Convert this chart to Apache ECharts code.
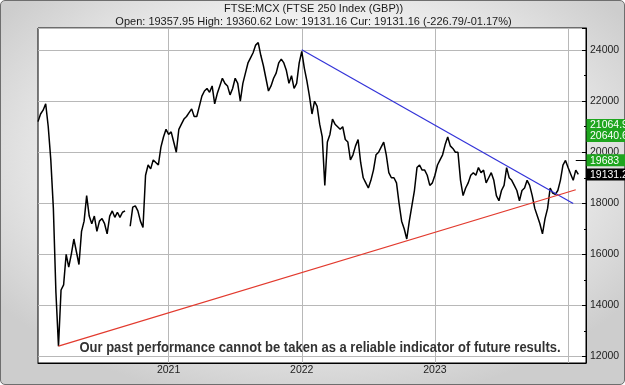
<!DOCTYPE html>
<html>
<head>
<meta charset="utf-8">
<script src="https://cdn.jsdelivr.net/npm/echarts@6/dist/echarts.min.js"></script>
<style>
html,body{margin:0;padding:0;background:#ffffff;}
#c{position:absolute;left:0;top:0;width:625px;height:385px;box-sizing:border-box;
border:1px solid #6e6e6e;border-radius:5px;
background:radial-gradient(ellipse 62% 64% at 50% 42%, #ffffff 0%, #f3f3f3 55%, #cdcdcd 100%);}
</style>
</head>
<body>
<div id="c"></div>
<script>
// ---------- data ----------
const titleText = 'FTSE:MCX (FTSE 250 Index (GBP))';
const quoteText = 'Open: 19357.95 High: 19360.62 Low: 19131.16 Cur: 19131.16 (-226.79/-01.17%)';
const disclaimerText = 'Our past performance cannot be taken as a reliable indicator of future results.';

const firstWeek = '2020-01-10';   // weekly closes, one per Friday
const weekCount = 215;            // axis runs to 2024-02-16

const values2020 = [21200,21500,21650,21900,21000,19700,17800,14500,12400,14600,
  14800,16000,15500,16000,16600,16100,15600,16900,17300,18300,
  17500,17200,17500,16900,17300,17400,17200,16800,17500,17700,
  17450,17650,17450,17650,17700,null,17100,17850,17900,17700,
  17300,17050,19100,19500,19350,19700,19600,19500,20200,20600,
  20900];
const values2021 = [20700,20800,20400,20000,20900,21100,21300,21400,21550,21700,
  21400,21400,21800,22200,22400,22500,22350,22600,21900,22300,
  22600,22900,22700,22600,22250,22500,22900,22700,22000,22700,
  23100,23500,23700,23900,24200,24300,23800,23400,22900,22400,
  22600,22900,23100,23500,23650,23500,23200,22700,23000,22500,
  22700,23500,23950];
const values2022 = [23300,22800,22200,21500,22000,21800,21100,20600,18700,20400,
  20700,21300,21100,21000,20900,21000,20500,20400,19700,19900,
  20250,20500,19600,19000,18800,18600,18900,19300,19900,20000,
  20200,20400,19900,19200,19000,19000,18800,18000,17300,17000,
  16600,17300,17900,18500,19400,19500,19300,19300,19100,18700,
  18800,19100];
const values2023 = [19500,19700,19900,20300,20600,20250,20150,20000,20000,18900,
  18300,18600,18800,19100,19200,19100,19400,19200,19300,18800,
  19000,19200,18900,18300,18100,18500,18700,19400,19000,18900,
  18700,18500,18100,18500,18600,18900,18700,18300,17800,17500,
  17200,16800,17400,17800,18600,18400,18350,18500,18900,19500,
  19680,19400];
const values2024 = [19150,18900,19300,19131.16];

// trend lines (date, value) pairs
const blueTrendDates = ['2021-12-31','2024-01-12'];
const blueTrendValues = [24020,17995];
const redTrendDates = ['2020-03-06','2024-01-19'];
const redTrendValues = [12400,18530];
// short marker at recent high
const highMarkDates = ['2024-01-19','2024-02-16'];
const highMarkValue = 19683;

// right-hand price tags
const tagLabels = ['21064.9','20640.6','19683','19131.2'];
const tagValues = [21064.9,20640.6,19683,19131.16];
const tagFills = ['#1ea51e','#1ea51e','#1ea51e','#000000'];

const yTickMin = 11740, yTickMax = 24870;

// ---------- build ----------
const categories = [];
const t0 = Date.parse(firstWeek + 'T00:00:00Z');
for (let k = 0; k < weekCount; k++) {
  categories.push(new Date(t0 + k * 7 * 86400000).toISOString().slice(0, 10));
}
const closes = values2020.concat(values2021, values2022, values2023, values2024);
const seriesData = categories.map((c, k) => k < closes.length ? closes[k] : null);

function yearMark(d) {
  const m = +d.slice(5, 7), day = +d.slice(8, 10), y = +d.slice(0, 4);
  if (m === 12 && day >= 29) return y + 1;
  if (m === 1 && day <= 4) return y;
  return 0;
}

const font = '"Liberation Sans", Arial, sans-serif';
const chart = echarts.init(document.getElementById('c'), null, {renderer: 'canvas', width: 625, height: 385});

const option = {
  animation: false,
  backgroundColor: 'transparent',
  title: [
    {text: titleText, left: 'center', top: 2.5, padding: 0,
     textStyle: {fontSize: 11, fontWeight: 'normal', color: '#1a1a1a', fontFamily: font}},
    {text: quoteText, left: 'center', top: 15, padding: 0,
     textStyle: {fontSize: 11, fontWeight: 'normal', color: '#1a1a1a', fontFamily: font}}
  ],
  grid: {left: 37, right: 40, top: 27, bottom: 23, show: true, backgroundColor: '#ffffff',
    borderColor: '#000000', borderWidth: 1, containLabel: false, outerBoundsMode: 'none'},
  xAxis: {
    type: 'category', data: categories, boundaryGap: false,
    axisLine: {show: true, lineStyle: {color: '#000', width: 1}},
    axisTick: {show: false},
    axisLabel: {
      interval: (i, v) => { const y = yearMark(v); return y > 0 && y <= 2023; },
      formatter: v => String(yearMark(v)),
      fontSize: 10.5, color: '#222', fontFamily: font, margin: 2
    },
    splitLine: {show: true, interval: (i, v) => yearMark(v) > 0,
      lineStyle: {color: '#b8b8b8', width: 1}}
  },
  yAxis: {
    type: 'value', position: 'right', min: yTickMin, max: yTickMax, splitNumber: 6, scale: true,
    axisLine: {show: true, lineStyle: {color: '#000', width: 1}},
    axisTick: {show: true, inside: true, length: 4, lineStyle: {color: '#000'}},
    minorTick: {show: true, splitNumber: 2, length: 2, lineStyle: {color: '#000'}},
    axisLabel: {formatter: v => String(v), fontSize: 10.5, color: '#222', fontFamily: font, margin: 4,
      showMinLabel: false, showMaxLabel: false},
    splitLine: {show: true, lineStyle: {color: '#b8b8b8', width: 1}}
  },
  series: [{
    type: 'line', data: seriesData, showSymbol: false, connectNulls: false,
    lineStyle: {color: '#000', width: 1.5}, z: 3,
    markLine: {
      silent: true, symbol: 'none', animation: false, label: {show: false},
      data: [
        [{coord: [blueTrendDates[0], blueTrendValues[0]], lineStyle: {color: '#3232d8', width: 1.2, type: 'solid'}},
         {coord: [blueTrendDates[1], blueTrendValues[1]]}],
        [{coord: [redTrendDates[0], redTrendValues[0]], lineStyle: {color: '#e23a2e', width: 1.2, type: 'solid'}},
         {coord: [redTrendDates[1], redTrendValues[1]]}],
        [{coord: [highMarkDates[0], highMarkValue], lineStyle: {color: '#000', width: 1, type: 'solid'}},
         {coord: [highMarkDates[1], highMarkValue]}]
      ]
    }
  }]
};
chart.setOption(option);

// price tags placed through the y axis scale; disclaimer text over the plot
const rightEdge = chart.convertToPixel({xAxisIndex: 0}, categories[categories.length - 1]);
const tags = tagValues.map((v, k) => {
  const y = chart.convertToPixel({yAxisIndex: 0}, v);
  return {
    type: 'group', z: 50,
    children: [
      {type: 'rect', shape: {x: rightEdge + 0.5, y: y - 6, width: 60, height: 12}, style: {fill: tagFills[k]}, z: 50},
      {type: 'text', style: {text: tagLabels[k], x: rightEdge + 4, y: y + 0.5, verticalAlign: 'middle', align: 'left',
        fill: '#ffffff', font: '10.5px ' + font}, z: 51}
    ]
  };
});
tags.push({
  type: 'text', z: 60, x: 319, y: 347, scaleY: 1.12,
  style: {text: disclaimerText, x: 0, y: 0, align: 'center', verticalAlign: 'middle',
    fill: '#333333', font: 'bold 13px ' + font}
});
chart.setOption({graphic: tags});
</script>
</body>
</html>
